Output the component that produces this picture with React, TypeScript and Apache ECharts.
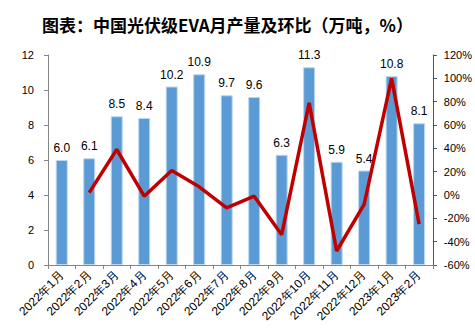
import React, { useEffect, useRef } from "react";
import * as echarts from "echarts";

const categories = [
  "2022年1月", "2022年2月", "2022年3月", "2022年4月", "2022年5月", "2022年6月", "2022年7月",
  "2022年8月", "2022年9月", "2022年10月", "2022年11月", "2022年12月", "2023年1月", "2023年2月",
];
const production = [6.0, 6.1, 8.5, 8.4, 10.2, 10.9, 9.7, 9.6, 6.3, 11.3, 5.9, 5.4, 10.8, 8.1];
const momPct = [null, 2, 39, -1, 21, 7, -11, -1, -34, 79, -48, -8, 100, -25];

export default function App() {
  const ref = useRef<HTMLDivElement>(null);
  useEffect(() => {
    if (!ref.current) return;
    const chart = echarts.init(ref.current, null, { renderer: "svg" });
    const font = "Liberation Sans, Arial, sans-serif";
    chart.setOption({
      animation: false,
      backgroundColor: "#ffffff",
      title: {
        text: "图表：中国光伏级EVA月产量及环比（万吨，%）",
        left: 37,
        top: 11,
        textStyle: {
          fontSize: 17,
          fontWeight: "bold",
          color: "#000000",
          fontFamily: "Noto Sans CJK SC, sans-serif",
        },
      },
      grid: { left: 48, right: 29, top: 55, bottom: 64 },
      xAxis: {
        type: "category",
        data: categories,
        axisLine: { lineStyle: { color: "#868686" } },
        axisTick: { show: true, alignWithLabel: false, length: 4, lineStyle: { color: "#868686" } },
        axisLabel: {
          rotate: 45,
          interval: 0,
          fontSize: 12,
          color: "#000000",
          fontFamily: font,
          margin: 8,
        },
      },
      yAxis: [
        {
          type: "value",
          min: 0,
          max: 12,
          interval: 2,
          splitLine: { show: false },
          axisLine: { show: true, lineStyle: { color: "#868686" } },
          axisTick: { show: true, length: 4, lineStyle: { color: "#868686" } },
          axisLabel: { fontSize: 11, color: "#000000", fontFamily: font, margin: 14 },
        },
        {
          type: "value",
          min: -60,
          max: 120,
          interval: 20,
          splitLine: { show: false },
          axisLine: { show: true, lineStyle: { color: "#44546A" } },
          axisTick: { show: true, length: 4, lineStyle: { color: "#44546A" } },
          axisLabel: {
            fontSize: 11,
            color: "#000000",
            fontFamily: font,
            margin: 11,
            formatter: (v: number) => v + "%",
          },
        },
      ],
      series: [
        {
          type: "bar",
          data: production,
          barWidth: 12,
          itemStyle: { color: "#5B9BD5", borderColor: "#BDD7EE", borderWidth: 1 },
          label: {
            show: true,
            position: "top",
            distance: 6,
            fontSize: 12,
            color: "#000000",
            fontFamily: font,
            formatter: (p: any) => Number(p.value).toFixed(1),
          },
        },
        {
          type: "line",
          yAxisIndex: 1,
          data: momPct,
          symbol: "none",
          lineStyle: { color: "#C00000", width: 3.5 },
          z: 5,
        },
      ],
    });
    return () => chart.dispose();
  }, []);
  return (
    <div
      ref={ref}
      style={{ position: "absolute", left: 0, top: 0, width: 475, height: 329 }}
    />
  );
}
